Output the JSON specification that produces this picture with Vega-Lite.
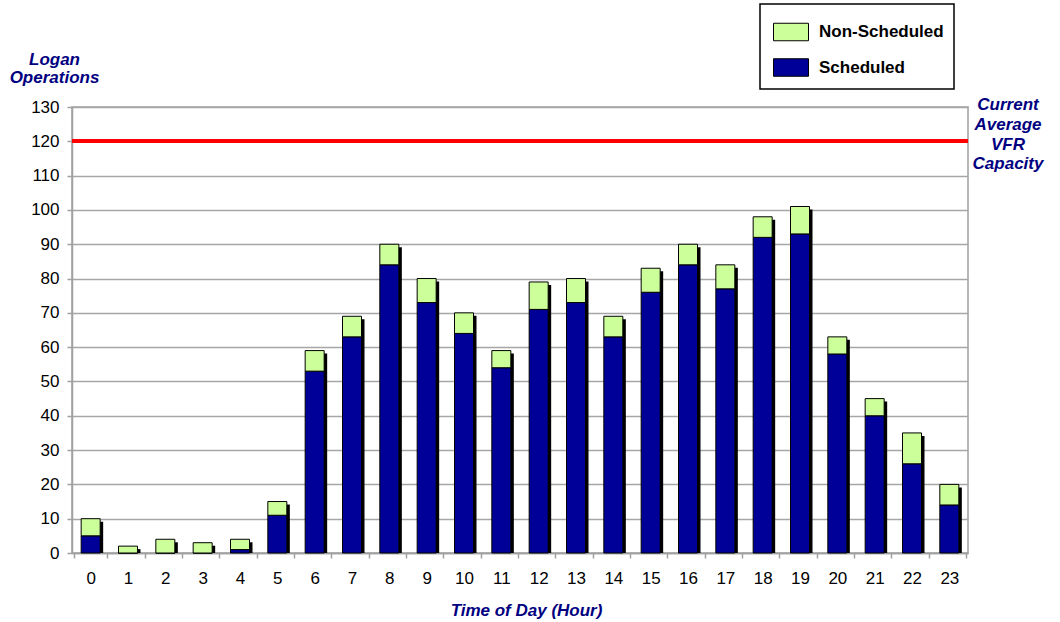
{
  "$schema": "https://vega.github.io/schema/vega-lite/v6.json",
  "width": 896,
  "height": 446,
  "autosize": "none",
  "padding": {"left": 72, "top": 107, "right": 92, "bottom": 69},
  "background": "white",
  "config": {
    "font": "Liberation Sans",
    "view": {"stroke": "#A0A0A0", "strokeWidth": 1.5}
  },
  "data": {
    "values": [
      {"hour": 0, "type": "Scheduled", "value": 5}, {"hour": 0, "type": "Non-Scheduled", "value": 5},
      {"hour": 1, "type": "Scheduled", "value": 0}, {"hour": 1, "type": "Non-Scheduled", "value": 2},
      {"hour": 2, "type": "Scheduled", "value": 0}, {"hour": 2, "type": "Non-Scheduled", "value": 4},
      {"hour": 3, "type": "Scheduled", "value": 0}, {"hour": 3, "type": "Non-Scheduled", "value": 3},
      {"hour": 4, "type": "Scheduled", "value": 1}, {"hour": 4, "type": "Non-Scheduled", "value": 3},
      {"hour": 5, "type": "Scheduled", "value": 11}, {"hour": 5, "type": "Non-Scheduled", "value": 4},
      {"hour": 6, "type": "Scheduled", "value": 53}, {"hour": 6, "type": "Non-Scheduled", "value": 6},
      {"hour": 7, "type": "Scheduled", "value": 63}, {"hour": 7, "type": "Non-Scheduled", "value": 6},
      {"hour": 8, "type": "Scheduled", "value": 84}, {"hour": 8, "type": "Non-Scheduled", "value": 6},
      {"hour": 9, "type": "Scheduled", "value": 73}, {"hour": 9, "type": "Non-Scheduled", "value": 7},
      {"hour": 10, "type": "Scheduled", "value": 64}, {"hour": 10, "type": "Non-Scheduled", "value": 6},
      {"hour": 11, "type": "Scheduled", "value": 54}, {"hour": 11, "type": "Non-Scheduled", "value": 5},
      {"hour": 12, "type": "Scheduled", "value": 71}, {"hour": 12, "type": "Non-Scheduled", "value": 8},
      {"hour": 13, "type": "Scheduled", "value": 73}, {"hour": 13, "type": "Non-Scheduled", "value": 7},
      {"hour": 14, "type": "Scheduled", "value": 63}, {"hour": 14, "type": "Non-Scheduled", "value": 6},
      {"hour": 15, "type": "Scheduled", "value": 76}, {"hour": 15, "type": "Non-Scheduled", "value": 7},
      {"hour": 16, "type": "Scheduled", "value": 84}, {"hour": 16, "type": "Non-Scheduled", "value": 6},
      {"hour": 17, "type": "Scheduled", "value": 77}, {"hour": 17, "type": "Non-Scheduled", "value": 7},
      {"hour": 18, "type": "Scheduled", "value": 92}, {"hour": 18, "type": "Non-Scheduled", "value": 6},
      {"hour": 19, "type": "Scheduled", "value": 93}, {"hour": 19, "type": "Non-Scheduled", "value": 8},
      {"hour": 20, "type": "Scheduled", "value": 58}, {"hour": 20, "type": "Non-Scheduled", "value": 5},
      {"hour": 21, "type": "Scheduled", "value": 40}, {"hour": 21, "type": "Non-Scheduled", "value": 5},
      {"hour": 22, "type": "Scheduled", "value": 26}, {"hour": 22, "type": "Non-Scheduled", "value": 9},
      {"hour": 23, "type": "Scheduled", "value": 14}, {"hour": 23, "type": "Non-Scheduled", "value": 6}
    ]
  },
  "resolve": {"axis": {"y": "independent"}},
  "layer": [
    {
      "mark": {"type": "bar", "color": "#000000", "width": 19, "xOffset": 3, "yOffset": 3},
      "encoding": {
        "x": {
          "field": "hour", "type": "ordinal",
          "axis": {
            "title": "Time of Day (Hour)",
            "labelAngle": 0, "labelFontSize": 17, "labelColor": "#000000", "labelPadding": 12,
            "tickBand": "extent", "tickSize": 5, "tickColor": "#A0A0A0", "tickWidth": 1.5,
            "domainColor": "#A0A0A0", "domainWidth": 1.5,
            "titleFontSize": 17, "titleFontStyle": "italic", "titleFontWeight": "bold",
            "titleColor": "#000080", "titlePadding": 16, "titleX": 454, "titleAlign": "center"
          }
        },
        "y": {"aggregate": "sum", "field": "value", "type": "quantitative", "stack": null,
              "scale": {"domain": [0, 130], "nice": false}, "axis": null}
      }
    },
    {
      "mark": {"type": "bar", "width": 19, "stroke": "#000000", "strokeWidth": 1},
      "encoding": {
        "x": {
          "field": "hour", "type": "ordinal",
          "axis": {
            "title": "Time of Day (Hour)",
            "labelAngle": 0, "labelFontSize": 17, "labelColor": "#000000", "labelPadding": 12,
            "tickBand": "extent", "tickSize": 5, "tickColor": "#A0A0A0", "tickWidth": 1.5,
            "domainColor": "#A0A0A0", "domainWidth": 1.5,
            "titleFontSize": 17, "titleFontStyle": "italic", "titleFontWeight": "bold",
            "titleColor": "#000080", "titlePadding": 16, "titleX": 454, "titleAlign": "center"
          }
        },
        "y": {
          "field": "value", "type": "quantitative",
          "scale": {"domain": [0, 130], "nice": false},
          "axis": {
            "orient": "left",
            "values": [0, 10, 20, 30, 40, 50, 60, 70, 80, 90, 100, 110, 120, 130],
            "grid": true, "gridColor": "#A6A6A6", "gridWidth": 1.5,
            "labelFontSize": 17, "labelColor": "#000000", "labelPadding": 8,
            "tickSize": 5, "tickColor": "#A0A0A0", "tickWidth": 1.5,
            "domainColor": "#A0A0A0", "domainWidth": 1.5,
            "title": ["Logan", "Operations"],
            "titleAngle": 0, "titleAlign": "center", "titleBaseline": "alphabetic",
            "titleX": -18, "titleY": -42.7, "titleLineHeight": 18.5,
            "titleFontSize": 17, "titleFontStyle": "italic", "titleFontWeight": "bold",
            "titleColor": "#000080"
          }
        },
        "color": {
          "field": "type", "type": "nominal",
          "scale": {"domain": ["Non-Scheduled", "Scheduled"], "range": ["#CCFF99", "#000099"]},
          "legend": {
            "title": null, "orient": "none", "legendX": 688, "legendY": -103,
            "strokeColor": "#000000", "fillColor": "#FFFFFF",
            "padding": 10, "rowPadding": 6.5, "symbolOffset": 3,
            "symbolType": "M-1,-0.5H1V0.5H-1Z", "symbolSize": 1225,
            "symbolStrokeColor": "#000000", "symbolStrokeWidth": 1, "symbolOpacity": 1,
            "labelFontSize": 17, "labelFontWeight": "bold", "labelColor": "#000000",
            "labelOffset": 10, "labelExpr": "datum.label + '    '",
            "encode": {"legend": {"update": {"strokeWidth": {"value": 1.5}}}}
          }
        },
        "order": {"field": "type", "sort": "descending"}
      }
    },
    {
      "mark": {"type": "rule", "color": "#FF0000", "strokeWidth": 3},
      "encoding": {
        "y": {
          "datum": 120, "type": "quantitative",
          "scale": {"domain": [0, 130], "nice": false},
          "axis": {
            "orient": "right", "labels": false, "ticks": false, "domain": false, "grid": false,
            "title": ["Current", "Average", "VFR", "Capacity"],
            "titleAngle": 0, "titleAlign": "center", "titleBaseline": "alphabetic",
            "titleX": 39.5, "titleY": 2.5, "titleLineHeight": 19.8,
            "titleFontSize": 17, "titleFontStyle": "italic", "titleFontWeight": "bold",
            "titleColor": "#000080"
          }
        }
      }
    }
  ]
}
